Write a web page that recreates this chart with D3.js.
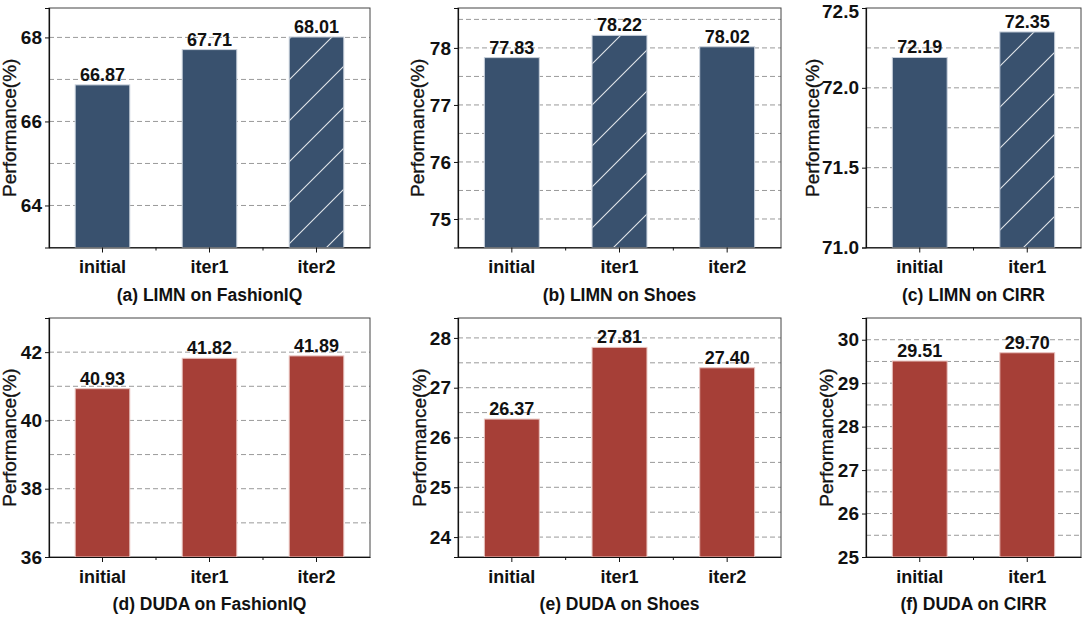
<!DOCTYPE html>
<html>
<head>
<meta charset="utf-8">
<script src="https://cdn.jsdelivr.net/npm/d3@7"></script>
<style>
  body { margin: 0; background: #fff; }
  text { font-family: "Liberation Sans", Arial, Helvetica, sans-serif; fill: #111; }
</style>
</head>
<body>
<svg class="chart"></svg>
<script>
// data
var cats3 = ['initial', 'iter1', 'iter2'];
var cats2 = ['initial', 'iter1'];

var limnFashionIQ = [66.87, 67.71, 68.01];
var limnShoes = [77.83, 78.22, 78.02];
var limnCIRR = [72.19, 72.35];
var dudaFashionIQ = [40.93, 41.82, 41.89];
var dudaShoes = [26.37, 27.81, 27.40];
var dudaCIRR = [29.51, 29.70];

var titles = ['(a) LIMN on FashionIQ', '(b) LIMN on Shoes', '(c) LIMN on CIRR',
              '(d) DUDA on FashionIQ', '(e) DUDA on Shoes', '(f) DUDA on CIRR'];

var ticksA = [64, 66, 68];
var ticksB = [75, 76, 77, 78];
var ticksC = [71.0, 71.5, 72.0, 72.5];
var ticksD = [36, 38, 40, 42];
var ticksE = [24, 25, 26, 27, 28];
var ticksF = [25, 26, 27, 28, 29, 30];

var width = 1083, height = 619;
var blue = '#39516e', red = '#a63f37';

var svg = d3.select('.chart')
  .attr('width', width)
  .attr('height', height);

// hatch pattern for the best LIMN bar
var defs = svg.append('defs');
var pat = defs.append('pattern')
  .attr('id', 'hatch')
  .attr('patternUnits', 'userSpaceOnUse')
  .attr('width', 41)
  .attr('height', 41);
pat.append('path')
  .attr('d', 'M0,41 L41,0 M-5,5 L5,-5 M36,46 L46,36')
  .attr('stroke', '#fff')
  .attr('stroke-opacity', 0.85)
  .attr('stroke-width', 1.1);

// panel layout
var panels = [
  {cats: cats3, vals: limnFashionIQ, dom: [63, 68.7], ticks: ticksA, step: 1, fmt: 'd', x0: 49, x1: 370, y0: 8, y1: 247.5, color: blue, edge: '#c8d0db', hatch: 2, labX: 9},
  {cats: cats3, vals: limnShoes, dom: [74.5, 78.7], ticks: ticksB, step: 0.5, fmt: 'd', x0: 458, x1: 781, y0: 8, y1: 247.5, color: blue, edge: '#c8d0db', hatch: 1, labX: 417},
  {cats: cats2, vals: limnCIRR, dom: [71, 72.5], ticks: ticksC, step: 0.25, fmt: '.1f', x0: 866, x1: 1081, y0: 8, y1: 247.5, color: blue, edge: '#c8d0db', hatch: 1, labX: 812},
  {cats: cats3, vals: dudaFashionIQ, dom: [36, 43], ticks: ticksD, step: 1, fmt: 'd', x0: 49, x1: 370, y0: 318, y1: 557, color: red, edge: '#e8c2be', hatch: -1, labX: 9},
  {cats: cats3, vals: dudaShoes, dom: [23.6, 28.4], ticks: ticksE, step: 0.5, fmt: 'd', x0: 458, x1: 781, y0: 318, y1: 557, color: red, edge: '#e8c2be', hatch: -1, labX: 419},
  {cats: cats2, vals: dudaCIRR, dom: [25, 30.5], ticks: ticksF, step: 0.5, fmt: 'd', x0: 866, x1: 1081, y0: 318, y1: 557, color: red, edge: '#e8c2be', hatch: -1, labX: 826}
];

panels.forEach(function(p, pi) {
  var g = svg.append('g');

  var x = d3.scaleBand()
    .domain(p.cats)
    .range([p.x0, p.x1])
    .paddingInner(0.49)
    .paddingOuter(0.245);

  var y = d3.scaleLinear()
    .domain(p.dom)
    .range([p.y1, p.y0]);

  // dashed grid
  var grid = d3.range(Math.ceil(p.dom[0] / p.step) * p.step, p.dom[1] + 1e-9, p.step)
    .filter(function(v) { return y(v) > p.y0 + 1 && y(v) < p.y1 - 1; });
  g.selectAll('.grid')
    .data(grid)
    .enter().append('line')
    .attr('x1', p.x0).attr('x2', p.x1)
    .attr('y1', function(d) { return y(d); })
    .attr('y2', function(d) { return y(d); })
    .attr('stroke', '#9a9a9a')
    .attr('stroke-width', 1)
    .attr('stroke-dasharray', '5,3');

  // frame
  g.append('rect')
    .attr('x', p.x0).attr('y', p.y0)
    .attr('width', p.x1 - p.x0).attr('height', p.y1 - p.y0)
    .attr('fill', 'none')
    .attr('stroke', '#444')
    .attr('stroke-width', 1);

  // bars
  g.selectAll('.bar')
    .data(p.vals)
    .enter().append('rect')
    .attr('x', function(d, i) { return x(p.cats[i]); })
    .attr('y', function(d) { return y(d); })
    .attr('width', x.bandwidth())
    .attr('height', function(d) { return p.y1 - y(d); })
    .attr('fill', p.color)
    .attr('stroke', p.edge)
    .attr('stroke-width', 1);

  if (p.hatch >= 0) {
    var hv = p.vals[p.hatch];
    g.append('rect')
      .attr('x', x(p.cats[p.hatch]) + 0.5)
      .attr('y', y(hv) + 0.5)
      .attr('width', x.bandwidth() - 1)
      .attr('height', p.y1 - y(hv) - 1)
      .attr('fill', 'url(#hatch)');
  }

  // value labels
  g.selectAll('.val')
    .data(p.vals)
    .enter().append('text')
    .attr('x', function(d, i) { return x(p.cats[i]) + x.bandwidth() / 2; })
    .attr('y', function(d) { return y(d) - 4; })
    .attr('text-anchor', 'middle')
    .style('font-size', '18px')
    .style('font-weight', 'bold')
    .text(function(d) { return d.toFixed(2); });

  // y axis
  var yAxis = d3.axisLeft(y)
    .tickValues(p.ticks)
    .tickSize(4)
    .tickPadding(3)
    .tickFormat(d3.format(p.fmt));
  var ya = g.append('g')
    .attr('transform', 'translate(' + p.x0 + ',0)')
    .call(yAxis);
  ya.select('.domain').attr('stroke', '#111').attr('stroke-width', 1.2);
  ya.selectAll('.tick line').attr('stroke', '#111');
  ya.selectAll('.tick text')
    .style('font-size', '19px')
    .style('font-weight', 'bold')
    .style('font-family', '"Liberation Sans", Arial, sans-serif')
    .attr('fill', '#111');
  // keep a label sitting on the top edge inside the page
  ya.selectAll('.tick text')
    .filter(function(d) { return y(d) < 12; })
    .attr('dy', '0.5em');

  // x axis
  var xAxis = d3.axisBottom(x)
    .tickSize(5)
    .tickPadding(8)
    .tickSizeOuter(0);
  var xa = g.append('g')
    .attr('transform', 'translate(0,' + p.y1 + ')')
    .call(xAxis);
  xa.select('.domain').attr('stroke', '#111').attr('stroke-width', 1.2);
  xa.selectAll('.tick line').attr('stroke', '#111');
  xa.selectAll('.tick text')
    .style('font-size', '18px')
    .style('font-weight', 'bold')
    .style('font-family', '"Liberation Sans", Arial, sans-serif')
    .attr('fill', '#111');

  // minor ticks at band boundaries
  var bounds = d3.range(1, p.cats.length).map(function(i) { return x(p.cats[i]) - x.step() * 0.245; });
  g.selectAll('.minor')
    .data(bounds)
    .enter().append('line')
    .attr('x1', function(d) { return d; }).attr('x2', function(d) { return d; })
    .attr('y1', p.y1).attr('y2', p.y1 + 3)
    .attr('stroke', '#111');

  // y label
  g.append('text')
    .attr('transform', 'translate(' + p.labX + ',' + (p.y0 + p.y1) / 2 + ') rotate(-90)')
    .attr('dy', '0.35em')
    .attr('text-anchor', 'middle')
    .style('font-size', '19px')
    .style('stroke', '#111')
    .style('stroke-width', 0.35)
    .text('Performance(%)');

  // panel title
  g.append('text')
    .attr('x', (p.x0 + p.x1) / 2)
    .attr('y', p.y1 + 53)
    .attr('text-anchor', 'middle')
    .style('font-size', '17.5px')
    .style('font-weight', 'bold')
    .text(titles[pi]);
});
</script>
</body>
</html>
